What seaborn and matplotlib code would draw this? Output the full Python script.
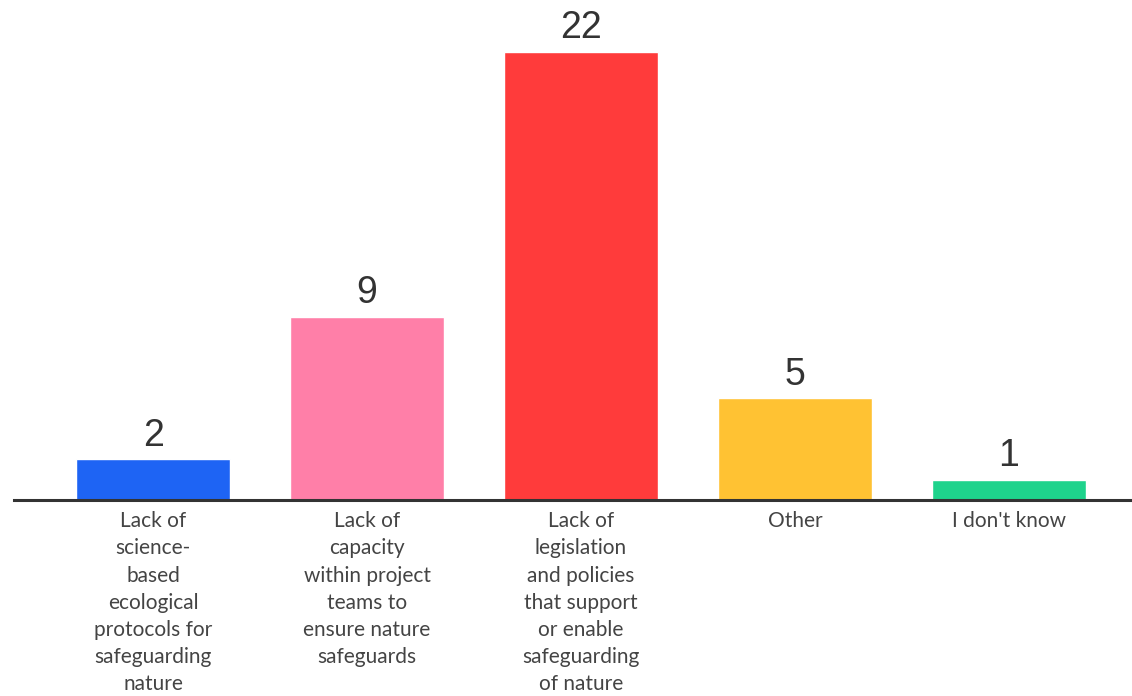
import matplotlib
matplotlib.use("Agg")
import matplotlib.pyplot as plt
import seaborn as sns
import pandas as pd

categories = [
    "Lack of\nscience-\nbased\necological\nprotocols for\nsafeguarding\nnature",
    "Lack of\ncapacity\nwithin project\nteams to\nensure nature\nsafeguards",
    "Lack of\nlegislation\nand policies\nthat support\nor enable\nsafeguarding\nof nature",
    "Other",
    "I don't know",
]
counts = [2, 9, 22, 5, 1]
colors = ["#1e64f4", "#ff7fa8", "#ff3b3b", "#ffc233", "#1ed38c"]

df = pd.DataFrame({"category": categories, "count": counts})

sns.set_theme(style="white")
plt.rcParams["font.family"] = ["Lato", "DejaVu Sans"]

fig = plt.figure(figsize=(11.32, 6.96), dpi=100)
ax = fig.add_axes([14 / 1132, 196 / 696, 1 - 14 / 1132, 448 / 696])

sns.barplot(data=df, x="category", y="count", hue="category",
            palette=colors, width=0.72, saturation=1, legend=False, ax=ax)

ax.set_xlim(-0.65, 4.575)
ax.set_ylim(0, 22)

for i, v in enumerate(counts):
    ax.annotate(str(v), (i, v), xytext=(0, 4), textcoords="offset points",
                ha="center", va="bottom", fontsize=27, color="#333333",
                family=["Liberation Sans", "DejaVu Sans"], annotation_clip=False)

for s in ["top", "right", "left"]:
    ax.spines[s].set_visible(False)
ax.spines["bottom"].set_color("#333333")
ax.spines["bottom"].set_linewidth(2.2)

ax.set_yticks([])
ax.set_xlabel("")
ax.set_ylabel("")
ax.tick_params(axis="x", length=0, pad=8, labelsize=15, labelcolor="#444444")
for lbl in ax.get_xticklabels():
    lbl.set_linespacing(1.45)

fig.savefig("out.png", dpi=100)
